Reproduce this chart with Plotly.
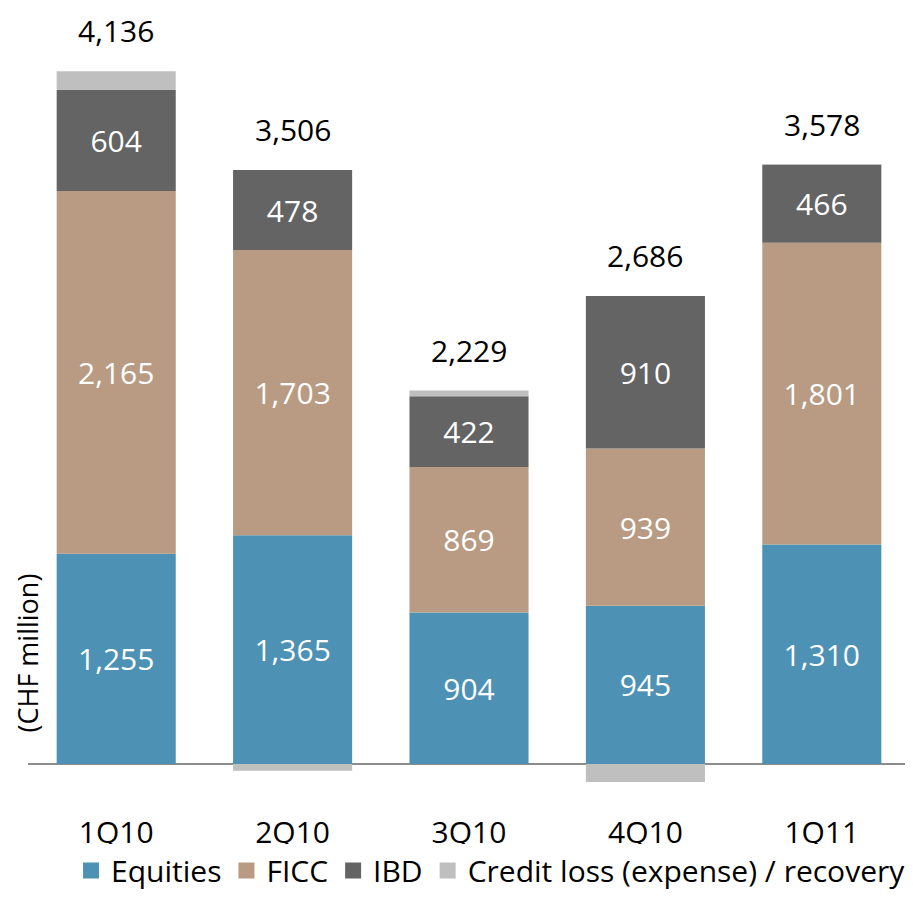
import plotly.graph_objects as go

quarters = ["1Q10", "2Q10", "3Q10", "4Q10", "1Q11"]
equities = [1255, 1365, 904, 945, 1310]
ficc = [2165, 1703, 869, 939, 1801]
ibd = [604, 478, 422, 910, 466]
credit = [112, -40, 34, -108, 1]
totals = [4136, 3506, 2229, 2686, 3578]

series_names = ["Equities", "FICC", "IBD", "Credit loss (expense) / recovery"]
series_colors = ["#4d91b4", "#b89b82", "#646464", "#bfbfbf"]
FONT = "Open Sans"

fig = go.Figure()
for name, vals, color, show_text in zip(series_names, [equities, ficc, ibd, credit],
                                        series_colors, [True, True, True, False]):
    fig.add_trace(go.Bar(
        x=quarters, y=vals, name=name, showlegend=False,
        marker=dict(color=color, line=dict(width=0)),
        texttemplate="%{y:,}" if show_text else None,
        textposition="inside" if show_text else "none",
        insidetextanchor="middle",
        constraintext="none",
        textfont=dict(color="white", size=30, family=FONT),
        hoverinfo="skip",
    ))

# legend entries with larger square swatches
for name, color in zip(series_names, series_colors):
    fig.add_trace(go.Scatter(
        x=[None], y=[None], mode="markers", name=name,
        marker=dict(symbol="square", size=16, color=color),
        showlegend=True, hoverinfo="skip",
    ))

# total labels above positive stack
pos_top = [e + f + i + max(c, 0) for e, f, i, c in zip(equities, ficc, ibd, credit)]
for q, top, tot in zip(quarters, pos_top, totals):
    fig.add_annotation(x=q, y=top, text=f"{tot:,}", showarrow=False,
                       yanchor="bottom", yshift=19, borderpad=0,
                       font=dict(size=30, family=FONT, color="black"))

fig.add_annotation(text="(CHF million)", xref="paper", yref="paper",
                   x=0, y=0.185, xshift=-1, textangle=-90, showarrow=False,
                   xanchor="center", yanchor="middle", borderpad=0,
                   font=dict(size=27, family=FONT, color="black"))

fig.update_layout(
    barmode="relative",
    bargap=0.325,
    width=905, height=909,
    margin=dict(l=20, r=3, t=0, b=117),
    paper_bgcolor="white", plot_bgcolor="white",
    font=dict(family=FONT, color="black"),
    showlegend=True,
    legend=dict(orientation="h", x=0.525, xanchor="center", y=-0.089, yanchor="middle",
                font=dict(size=30, family=FONT), traceorder="normal",
                itemwidth=30, tracegroupgap=0),
    xaxis=dict(showgrid=False, showline=False, ticks="",
               tickfont=dict(size=30, family=FONT), ticklabelstandoff=12),
    yaxis=dict(range=[-215, 4513], showgrid=False, showticklabels=False,
               showline=False, ticks="", zeroline=True, zerolinecolor="#8c8c8c",
               zerolinewidth=1.5),
)

fig.write_html("out.html")
